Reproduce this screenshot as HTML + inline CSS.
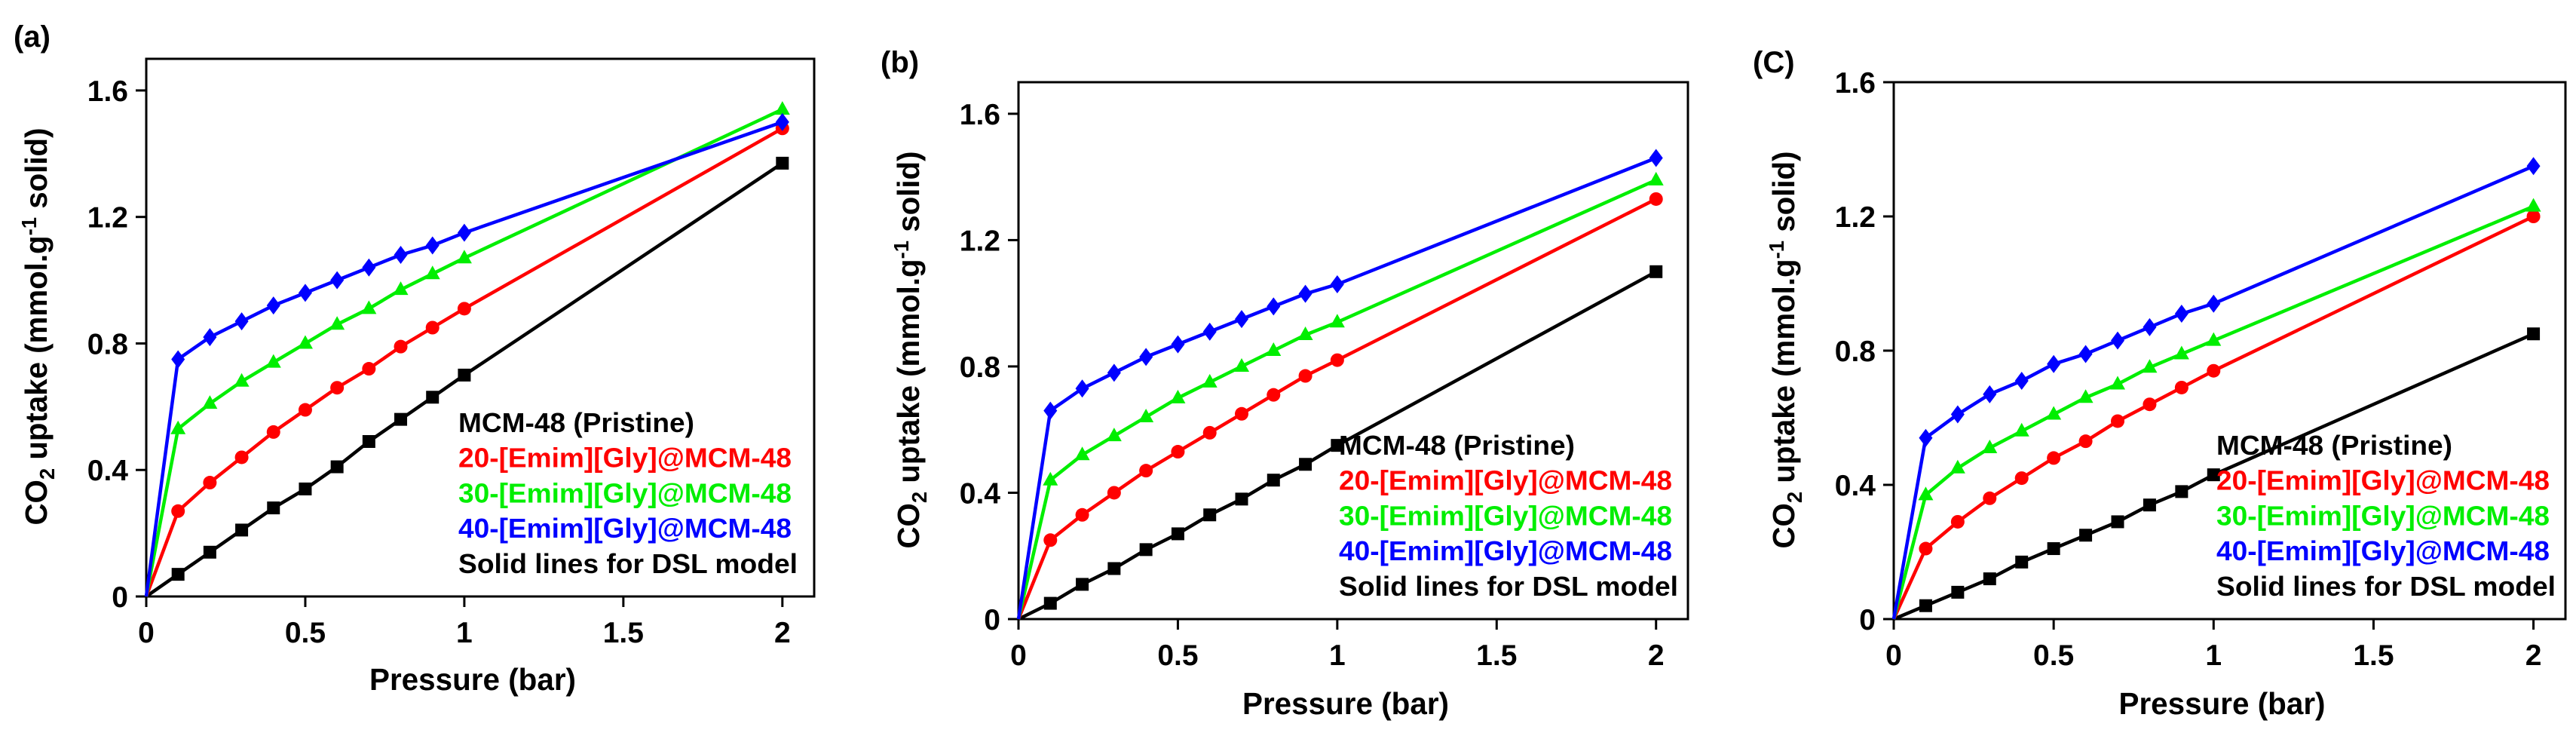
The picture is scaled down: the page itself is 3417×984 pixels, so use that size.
<!DOCTYPE html>
<html><head><meta charset="utf-8"><style>
html,body{margin:0;padding:0;background:#fff;}
svg{display:block;font-family:"Liberation Sans",Arial,sans-serif;font-weight:bold;}
</style></head><body>
<svg id="fig" width="3417" height="984" viewBox="0 0 3417 984" xmlns="http://www.w3.org/2000/svg"></svg>
<script>
const pressures = [0,0.1,0.2,0.3,0.4,0.5,0.6,0.7,0.8,0.9,1,2];
const xTicks = [0,0.5,1,1.5,2];
const xTickLabels = ["0","0.5","1","1.5","2"];
const yTicks = [0,0.4,0.8,1.2,1.6];
const yTickLabels = ["0","0.4","0.8","1.2","1.6"];
const legendLabels = ["MCM-48 (Pristine)","20-[Emim][Gly]@MCM-48","30-[Emim][Gly]@MCM-48","40-[Emim][Gly]@MCM-48","Solid lines for DSL model"];
const seriesNames = ["pristine","emim-20","emim-30","emim-40"];
const seriesColors = ["#000000","#ff0000","#00ee00","#0000ff"];
const seriesMarkers = ["square","circle","triangle","diamond"];

// panel (a)
const a_pristine = [0,0.07,0.14,0.21,0.28,0.34,0.41,0.49,0.56,0.63,0.70,1.37];
const a_emim20   = [0,0.27,0.36,0.44,0.52,0.59,0.66,0.72,0.79,0.85,0.91,1.48];
const a_emim30   = [0,0.53,0.61,0.68,0.74,0.80,0.86,0.91,0.97,1.02,1.07,1.54];
const a_emim40   = [0,0.75,0.82,0.87,0.92,0.96,1.00,1.04,1.08,1.11,1.15,1.50];
// panel (b)
const b_pristine = [0,0.05,0.11,0.16,0.22,0.27,0.33,0.38,0.44,0.49,0.55,1.10];
const b_emim20   = [0,0.25,0.33,0.40,0.47,0.53,0.59,0.65,0.71,0.77,0.82,1.33];
const b_emim30   = [0,0.44,0.52,0.58,0.64,0.70,0.75,0.80,0.85,0.90,0.94,1.39];
const b_emim40   = [0,0.66,0.73,0.78,0.83,0.87,0.91,0.95,0.99,1.03,1.06,1.46];
// panel (c)
const c_pristine = [0,0.04,0.08,0.12,0.17,0.21,0.25,0.29,0.34,0.38,0.43,0.85];
const c_emim20   = [0,0.21,0.29,0.36,0.42,0.48,0.53,0.59,0.64,0.69,0.74,1.20];
const c_emim30   = [0,0.37,0.45,0.51,0.56,0.61,0.66,0.70,0.75,0.79,0.83,1.23];
const c_emim40   = [0,0.54,0.61,0.67,0.71,0.76,0.79,0.83,0.87,0.91,0.94,1.35];

const NS="http://www.w3.org/2000/svg";
const svg=document.getElementById('fig');
function mk(tag,attrs,parent){const e=document.createElementNS(NS,tag);for(const k in attrs)e.setAttribute(k,attrs[k]);(parent||svg).appendChild(e);return e;}

const panels=[
 {id:'a',label:'(a)',labelX:18,labelY:62,left:194,right:1080,top:78,bottom:791,xmax:2.1,ymax:1.70,
  ytitleX:48,ytitleY:433,xtitleY:915,xtickY:852,legX:608,legY:573,data:[a_pristine,a_emim20,a_emim30,a_emim40]},
 {id:'b',label:'(b)',labelX:1168,labelY:96,left:1351,right:2239,top:109,bottom:821,xmax:2.1,ymax:1.70,
  ytitleX:1205,ytitleY:464,xtitleY:947,xtickY:882,legX:1776,legY:603,data:[b_pristine,b_emim20,b_emim30,b_emim40]},
 {id:'c',label:'(C)',labelX:2325,labelY:96,left:2512,right:3403,top:109,bottom:821,xmax:2.1,ymax:1.60,
  ytitleX:2366,ytitleY:464,xtitleY:947,xtickY:882,legX:2940,legY:603,data:[c_pristine,c_emim20,c_emim30,c_emim40]}
];
const legendWidths=[313,442,442,442,450];

panels.forEach(p=>{
  const g=mk('g',{});
  
  
  const xs=v=>p.left+(v/p.xmax)*(p.right-p.left);
  const ys=v=>p.bottom-(v/p.ymax)*(p.bottom-p.top);
  const pl=mk('text',{x:p.labelX,y:p.labelY,'font-size':40},g);pl.textContent=p.label;
  
  
  xTicks.forEach((t,i)=>{
    const x=xs(t);
    const tk=mk('line',{x1:x,x2:x,y1:p.bottom,y2:p.bottom+14,stroke:'#000','stroke-width':3},g);
    
    
    const tl=mk('text',{x:x,y:p.xtickY,'font-size':39,'text-anchor':'middle'},g);tl.textContent=xTickLabels[i];
    
    
  });
  yTicks.forEach((t,i)=>{
    if(t>p.ymax)return;
    const y=ys(t);
    const tk=mk('line',{x1:p.left-14,x2:p.left,y1:y,y2:y,stroke:'#000','stroke-width':3},g);
    
    
    const tl=mk('text',{x:p.left-24,y:y+14,'font-size':39,'text-anchor':'end'},g);tl.textContent=yTickLabels[i];
    
    
  });
  const fr=mk('rect',{x:p.left,y:p.top,width:p.right-p.left,height:p.bottom-p.top,fill:'none',stroke:'#000','stroke-width':3},g);
  
  
  const xt=mk('text',{x:(p.left+p.right)/2-10,y:p.xtitleY,'font-size':41,'text-anchor':'middle',textLength:274,lengthAdjust:'spacingAndGlyphs'},g);
  xt.textContent='Pressure (bar)';
  
  
  const yt=mk('text',{x:0,y:0,'font-size':41,'text-anchor':'middle',textLength:527,lengthAdjust:'spacingAndGlyphs',transform:`translate(${p.ytitleX+14},${p.ytitleY}) rotate(-90)`},g);
  
  
  yt.innerHTML='CO<tspan font-size="28" dy="10">2</tspan><tspan dy="-10"> uptake (mmol.g</tspan><tspan font-size="28" dy="-14">-1</tspan><tspan dy="14"> solid)</tspan>';
  p.data.forEach((vals,si)=>{
    const sg=mk('g',{},g);
    
    
    const col=seriesColors[si];
    const pts=vals.map((v,i)=>xs(pressures[i]).toFixed(1)+','+ys(v).toFixed(1)).join(' ');
    const ln=mk('polyline',{points:pts,fill:'none',stroke:col,'stroke-width':4.5,'stroke-linejoin':'round'},sg);
    
    
    vals.forEach((v,i)=>{
      if(i===0)return;
      const cx=xs(pressures[i]),cy=ys(v);let m;
      const s=seriesMarkers[si];
      if(s==='square')m=mk('rect',{x:cx-8.5,y:cy-8.5,width:17,height:17,fill:col},sg);
      else if(s==='circle')m=mk('circle',{cx:cx,cy:cy,r:9,fill:col},sg);
      else if(s==='triangle')m=mk('polygon',{points:`${cx},${cy-11} ${cx+10},${cy+7} ${cx-10},${cy+7}`,fill:col},sg);
      else m=mk('polygon',{points:`${cx},${cy-12} ${cx+9},${cy} ${cx},${cy+12} ${cx-9},${cy}`,fill:col},sg);
      
      
    });
  });
  const lg=mk('g',{},g);
  
  
  legendLabels.forEach((t,i)=>{
    const col=i<4?seriesColors[i]:'#000';
    const te=mk('text',{x:p.legX,y:p.legY+i*46.7,'font-size':36,fill:col,textLength:legendWidths[i],lengthAdjust:'spacingAndGlyphs'},lg);
    te.textContent=t;
    
    
  });
});
</script>
</body></html>
